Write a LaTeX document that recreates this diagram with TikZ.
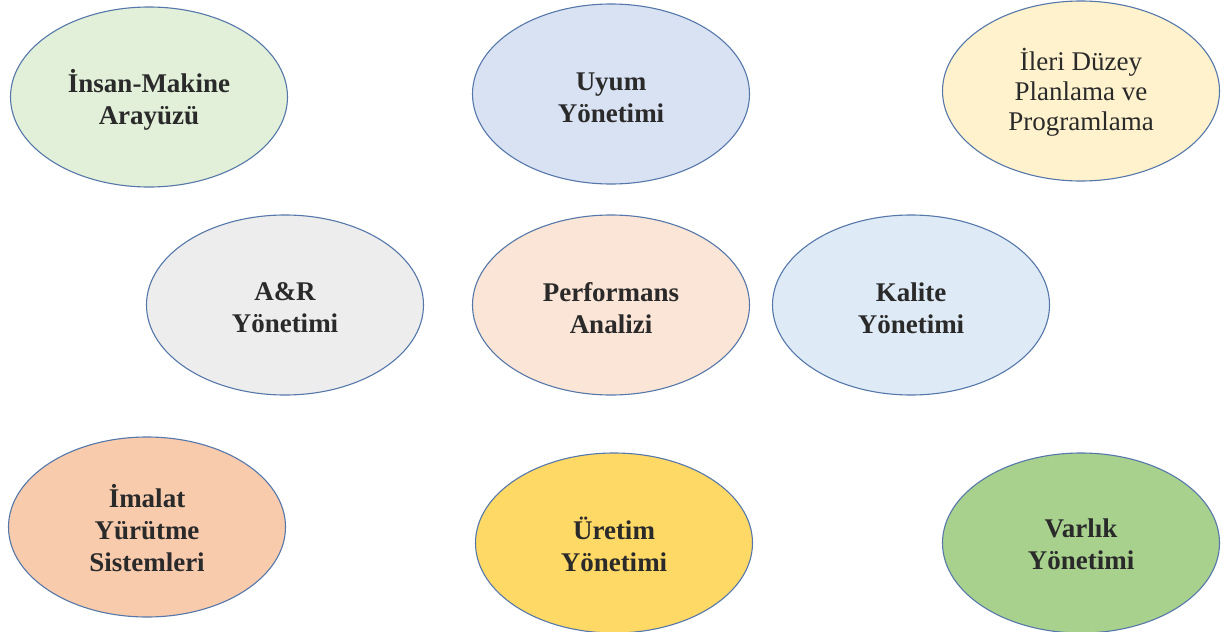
\documentclass[tikz,border=0pt]{standalone}
\usepackage{fontspec}
\setmainfont{Liberation Serif}
\usetikzlibrary{shapes.geometric}

\definecolor{edgeblue}{HTML}{5577AA}
\definecolor{txt}{HTML}{2A2A2A}
\definecolor{cGreenL}{HTML}{E2EFD9}
\definecolor{cBlueL}{HTML}{D9E2F3}
\definecolor{cYellowL}{HTML}{FFF2CC}
\definecolor{cGray}{HTML}{EDEDED}
\definecolor{cPeachL}{HTML}{FBE5D6}
\definecolor{cSky}{HTML}{DEEBF7}
\definecolor{cPeach}{HTML}{F8CBAD}
\definecolor{cGold}{HTML}{FFD966}
\definecolor{cGreen}{HTML}{A9D18E}

\tikzset{
  bubble/.style={ellipse, draw=edgeblue, line width=1.1pt, inner sep=0pt,
    minimum width=277pt, minimum height=180pt},
  caption/.style={align=center, text=txt, inner sep=0pt,
    font=\fontsize{27}{32}\selectfont\bfseries},
  plaincaption/.style={caption, font=\fontsize{27}{30}\selectfont}
}

\begin{document}
\begin{tikzpicture}[x=1pt, y=-1pt]
  \useasboundingbox (0,0) rectangle (1224,632);

  % top row
  \node[bubble, fill=cGreenL]  (hmi)  at (149,97)  {};
  \node[bubble, fill=cBlueL]   (uyum) at (611,94)  {};
  \node[bubble, fill=cYellowL] (aps)  at (1081,91) {};
  \node[caption]      (hmiT)  at ([yshift=-3pt]hmi.center)  {İnsan-Makine\\Arayüzü};
  \node[caption]      (uyumT) at ([yshift=-4pt]uyum.center) {Uyum\\Yönetimi};
  \node[plaincaption] (apsT)  at ([yshift=-1pt]aps.center)  {İleri Düzey\\Planlama ve\\Programlama};

  % middle row
  \node[bubble, fill=cGray]   (ar)   at (285,305) {};
  \node[bubble, fill=cPeachL] (perf) at (611,305) {};
  \node[bubble, fill=cSky]    (kal)  at (911,305) {};
  \node[caption] (arT)   at ([yshift=-3pt]ar.center)   {A\&R\\Yönetimi};
  \node[caption] (perfT) at ([yshift=-3pt]perf.center) {Performans\\Analizi};
  \node[caption] (kalT)  at ([yshift=-3pt]kal.center)  {Kalite\\Yönetimi};

  % bottom row
  \node[bubble, fill=cPeach] (mes)  at (147,527)  {};
  \node[bubble, fill=cGold]  (uret) at (614,543)  {};
  \node[bubble, fill=cGreen] (var)  at (1081,543) {};
  \node[caption] (mesT)  at ([yshift=-1pt]mes.center)  {İmalat\\Yürütme\\Sistemleri};
  \node[caption] (uretT) at ([yshift=-1pt]uret.center) {Üretim\\Yönetimi};
  \node[caption] (varT)  at ([yshift=-1pt]var.center)  {Varlık\\Yönetimi};
\end{tikzpicture}
\end{document}
